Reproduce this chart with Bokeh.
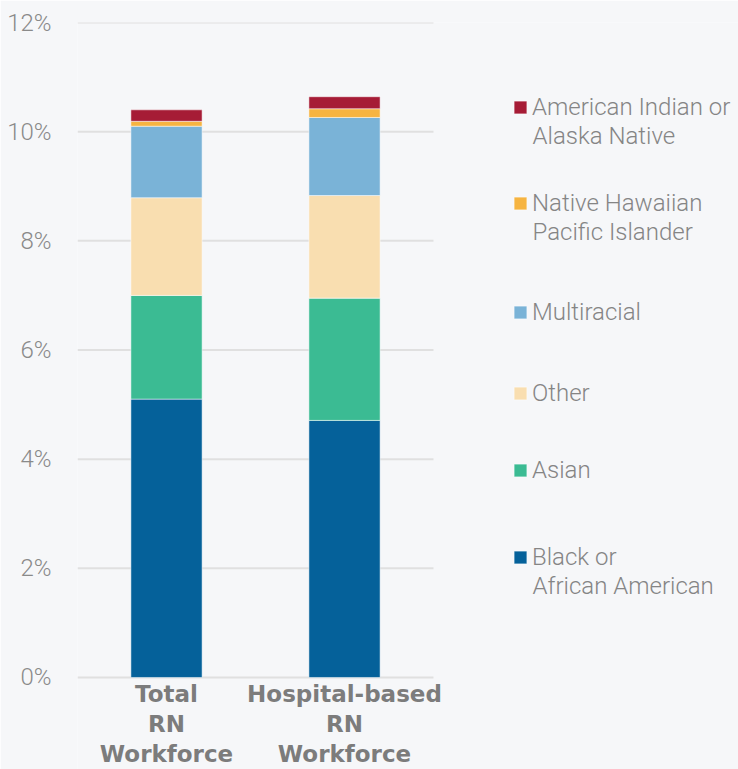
from bokeh.plotting import figure
from bokeh.models import FixedTicker, PrintfTickFormatter, Legend, LegendItem, Range1d, Label
from bokeh.core.properties import value
from bokeh.embed import file_html
from bokeh.resources import INLINE

categories = ["Total\nRN\nWorkforce", "Hospital-based\nRN\nWorkforce"]
black = [5.10, 4.71]
asian = [1.90, 2.24]
other = [1.79, 1.88]
multiracial = [1.31, 1.43]
nhpi = [0.09, 0.16]
aian = [0.21, 0.22]
series = ["black", "asian", "other", "multiracial", "nhpi", "aian"]
labels = ["Black or\nAfrican American", "Asian", "Other", "Multiracial",
          "Native Hawaiian\nPacific Islander", "American Indian or\nAlaska Native"]
colors = ["#05619A", "#3BBB93", "#F9DEB0", "#7AB3D7", "#F6B441", "#A61C36"]
yticks = [0, 2, 4, 6, 8, 10, 12]

BG = "#F6F7F9"
LIGHT_FONT = "Roboto Light"
n = len(categories)
xpos = [i + 0.5 for i in range(n)]
data = dict(x=xpos, cat=categories, black=black, asian=asian, other=other,
            multiracial=multiracial, nhpi=nhpi, aian=aian)

W, H = 738, 769
FRAME_LEFT, FRAME_TOP = 77, 22
p = figure(x_range=Range1d(0, 3.7135), y_range=Range1d(-1.686, 12),
           width=W, height=H, output_backend="svg", toolbar_location=None,
           min_border_left=FRAME_LEFT, min_border_right=0, min_border_top=FRAME_TOP,
           min_border_bottom=0)
p.background_fill_color = BG
p.border_fill_color = BG
p.outline_line_color = None
p.xaxis.visible = False
p.grid.grid_line_color = None

# horizontal gridlines across the category area
p.segment(x0=[0] * len(yticks), x1=[n] * len(yticks), y0=yticks, y1=yticks,
          line_color="#E0E0E0", line_width=2)

rs = p.vbar_stack(series, x="x", width=0.4, source=data, color=colors,
                  line_color="white", line_alpha=0.5, line_width=1)

# category labels under the bars
p.text(x=xpos, y=[0] * n, text=categories,
       text_font=value("DejaVu Sans"), text_font_style="bold", text_font_size="23px",
       text_color="#7C7C7C", text_align="center", text_baseline="top",
       y_offset=4, text_line_height=1.14)

p.yaxis.ticker = FixedTicker(ticks=yticks)
p.yaxis.formatter = PrintfTickFormatter(format="%d%%")
p.yaxis.axis_line_color = None
p.yaxis.major_tick_line_color = None
p.yaxis.minor_tick_line_color = None
p.yaxis.major_label_text_font = LIGHT_FONT
p.yaxis.major_label_text_font_size = "24px"
p.yaxis.major_label_text_color = "#8A8A8A"
p.yaxis.major_label_standoff = 20

# legend: one entry per series, top to bottom; swatch aligned with first text line
legend_x = 435                      # from frame left, px
legend_line_y = [557, 470, 393, 312, 203, 107]   # page px of each entry's first line (same order as series)
line_gap = 28
glyph = 16
standoff = 4
frame_bottom = H
for i in range(len(series) - 1, -1, -1):
    lines = labels[i].split("\n")
    c = legend_line_y[i]
    lg = Legend(items=[LegendItem(label=lines[0], renderers=[rs[i]])],
                location=(legend_x, frame_bottom - c - 14), background_fill_alpha=0,
                border_line_alpha=0, label_text_font=LIGHT_FONT, label_text_font_size="24px",
                label_text_color="#858585", glyph_width=glyph, glyph_height=glyph,
                label_standoff=standoff, padding=0, margin=0)
    p.add_layout(lg, "center")
    for k, extra in enumerate(lines[1:], start=1):
        p.add_layout(Label(x=legend_x + glyph + standoff, y=frame_bottom - c - k * line_gap,
                           x_units="screen", y_units="screen", text=extra,
                           text_font=LIGHT_FONT, text_font_size="24px", text_color="#858585",
                           text_baseline="middle", text_align="left"))

html = file_html(p, INLINE)
html = html.replace("<body>", "<body style=\"background:%s\">" % BG, 1)
open("out.html", "w").write(html)
